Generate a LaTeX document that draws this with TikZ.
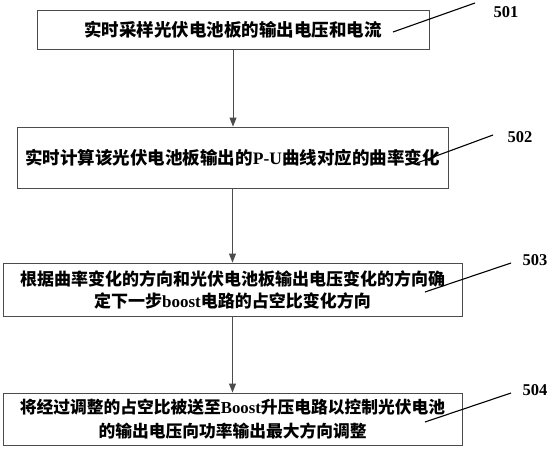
\documentclass[tikz,border=0pt]{standalone}
\usepackage{fontspec}
\setmainfont{Liberation Serif}
\newfontfamily\cjk{Noto Sans CJK SC}
\usetikzlibrary{arrows.meta}
\begin{document}
\begin{tikzpicture}[x=1pt,y=-1pt,
  stepbox/.style={draw=black!70, line width=0.9pt, inner sep=0pt, align=center},
  flow/.style={draw=black!70, line width=0.9pt, -{Triangle[length=9pt,width=7pt]}},
  leader/.style={draw=black, line width=1.1pt},
  num/.style={font=\fontsize{16.5}{18}\selectfont\bfseries, inner sep=0pt}]
\useasboundingbox (0,0) rectangle (551,450);
\fill[white] (0,0) rectangle (551,450);

\node[stepbox, minimum width=392pt, minimum height=39pt,
  font=\fontsize{17.5}{23}\selectfont\cjk\bfseries] (b1) at (233,29.5)
  {实时采样光伏电池板的输出电压和电流};
\node[stepbox, minimum width=431pt, minimum height=61pt,
  font=\fontsize{17.5}{23}\selectfont\cjk\bfseries] (b2) at (232.5,157.5)
  {实时计算该光伏电池板输出的{\rmfamily\bfseries P-U}曲线对应的曲率变化};
\node[stepbox, minimum width=459pt, minimum height=53pt,
  font=\fontsize{17}{22}\selectfont\cjk\bfseries] (b3) at (232.5,289.5)
  {根据曲率变化的方向和光伏电池板输出电压变化的方向确\\定下一步{\rmfamily\bfseries boost}电路的占空比变化方向};
\node[stepbox, minimum width=459pt, minimum height=52pt,
  font=\fontsize{16.75}{24}\selectfont\cjk\bfseries] (b4) at (232.5,419)
  {将经过调整的占空比被送至{\rmfamily\bfseries Boost}升压电路以控制光伏电池\\的输出电压向功率输出最大方向调整};

\draw[flow] (b1.south) -- (b1.south |- b2.north);
\draw[flow] (b2.south) -- (b2.south |- b3.north);
\draw[flow] (b3.south) -- (b3.south |- b4.north);

\node[num] (l1) at (506,12) {501};
\node[num] (l2) at (520,137) {502};
\node[num] (l3) at (535,260) {503};
\node[num] (l4) at (535,390) {504};

\coordinate (s1) at (393,32);  \coordinate (e1) at (475,3);
\coordinate (s2) at (417,163); \coordinate (e2) at (493,135);
\coordinate (s3) at (425,292); \coordinate (e3) at (511,263);
\coordinate (s4) at (425,422); \coordinate (e4) at (511,393);
\draw[leader] (s1) -- (e1);
\draw[leader] (s2) -- (e2);
\draw[leader] (s3) -- (e3);
\draw[leader] (s4) -- (e4);
\end{tikzpicture}
\end{document}
